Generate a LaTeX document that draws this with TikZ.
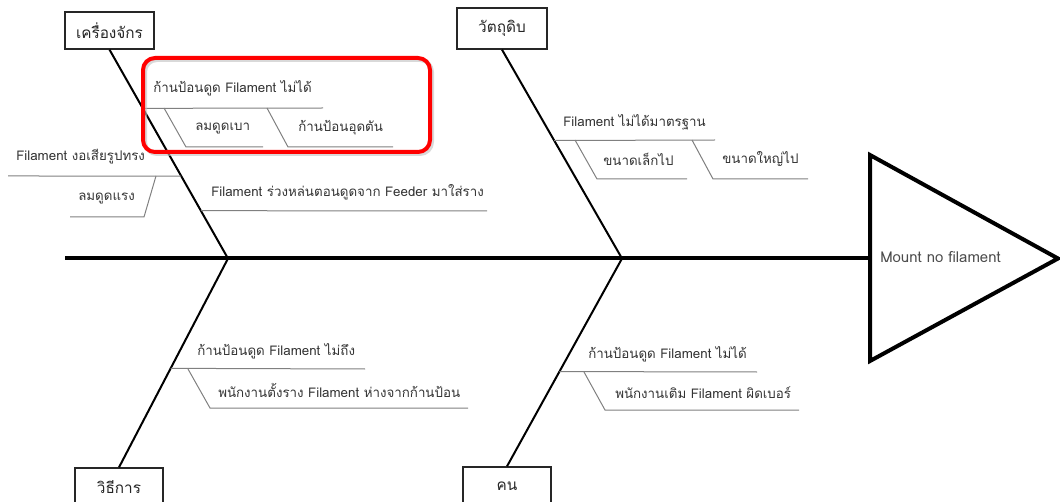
\documentclass[tikz,border=0pt]{standalone}
\usepackage{fontspec}
\usetikzlibrary{calc}
\newfontfamily\thai[Script=Thai]{Loma}
\begin{document}
\begin{tikzpicture}[x=0.75pt,y=-0.75pt,
  bone/.style={line width=1.5pt,black},
  spine/.style={line width=3pt,black},
  twig/.style={line width=0.75pt,black!50},
  lbl/.style={anchor=west,inner sep=0pt,text=black!80,font=\thai\fontsize{10}{12}\selectfont},
  catbox/.style={draw=black!85,line width=1pt,fill=white,inner sep=0pt,
    font=\thai\fontsize{11.5}{14}\selectfont,text=black!85},
  hilite/.style={draw=red,line width=3pt,rounded corners=9pt}]
\useasboundingbox (0,0) rectangle (1060,502);

% category boxes
\node[catbox,minimum width=66.75pt,minimum height=27.75pt] (mach) at (109.5,30.5) {เครื่องจักร};
\node[catbox,minimum width=67.5pt,minimum height=30.75pt] (mat) at (502,28.5) {วัตถุดิบ};
\node[catbox,minimum width=66pt,minimum height=28.5pt] (meth) at (119,487) {วิธีการ};
\node[catbox,minimum width=66pt,minimum height=28.5pt] (man) at (507,486) {คน};

% spine and head
\coordinate (tail) at (65,258.5);
\coordinate (J1) at (228,258.5);
\coordinate (J2) at (622,258.5);
\coordinate (headL) at (870,258.5);
\draw[spine,line join=miter] (870,155) -- (1058,258.5) -- (870,361) -- cycle;
\node[anchor=west,inner sep=0pt,text=black!70,font=\thai\fontsize{11.2}{13}\selectfont] (effect) at (880,257) {Mount no filament};
\draw[spine] (tail) -- (headL);

% main bones
\draw[bone] (mach.south) -- (J1);
\draw[bone] (mat.south) -- (J2);
\draw[bone] (J1) -- (meth.north);
\draw[bone] (J2) -- (man.north);

% machine branch
\node[lbl] (m1) at (153,88) {ก้านป้อนดูด Filament ไม่ได้};
\node[lbl] (m1a) at (195,128) {ลมดูดเบา};
\node[lbl] (m1b) at (298,128) {ก้านป้อนอุดตัน};
\node[lbl] (m2) at (16,157) {Filament งอเสียรูปทรง};
\node[lbl] (m2a) at (78,198) {ลมดูดแรง};
\node[lbl] (m3) at (211,192) {Filament ร่วงหล่นตอนดูดจาก Feeder มาใส่ราง};
\coordinate (m1s) at ($(mach.south)!0.281!(J1)$);
\coordinate (m2s) at ($(mach.south)!0.605!(J1)$);
\coordinate (m3s) at ($(mach.south)!0.771!(J1)$);
\draw[twig] (m1s) -- (323,108);
\draw[twig] (164,108) -- (186,147) -- (263,147);
\draw[twig] (267,108) -- (288,147) -- (393,147);
\draw[twig] (8,176) -- (m2s);
\draw[twig] (156,176) -- (144,217) -- (70,217);
\draw[twig] (m3s) -- (487,211);

% material branch
\node[lbl] (r1) at (563,122) {Filament ไม่ได้มาตรฐาน};
\node[lbl] (r1a) at (603,159) {ขนาดเล็กไป};
\node[lbl] (r1b) at (722,159) {ขนาดใหญ่ไป};
\coordinate (r1s) at ($(mat.south)!0.435!(J2)$);
\draw[twig] (r1s) -- (715,140);
\draw[twig] (575,140) -- (597,179) -- (687,179);
\draw[twig] (692,140) -- (713,179) -- (808,179);

% method branch
\node[lbl] (d1) at (197,351) {ก้านป้อนดูด Filament ไม่ถึง};
\node[lbl] (d1a) at (218,390) {พนักงานตั้งราง Filament ห่างจากก้านป้อน};
\coordinate (d1s) at ($(J1)!0.526!(meth.north)$);
\draw[twig] (d1s) -- (365,369);
\draw[twig] (188,369) -- (210,408) -- (468,408);

% people branch
\node[lbl] (p1) at (588,354) {ก้านป้อนดูด Filament ไม่ได้};
\node[lbl] (p1a) at (615,393) {พนักงานเติม Filament ผิดเบอร์};
\coordinate (p1s) at ($(J2)!0.544!(man.north)$);
\draw[twig] (p1s) -- (757,372);
\draw[twig] (584,372) -- (605,410) -- (799,410);

% highlighted group
\draw[black!25,line width=3pt,rounded corners=9pt,opacity=0.6] (145,60) rectangle (432,154);
\draw[hilite] (143,58) rectangle (430,152);
\end{tikzpicture}
\end{document}
